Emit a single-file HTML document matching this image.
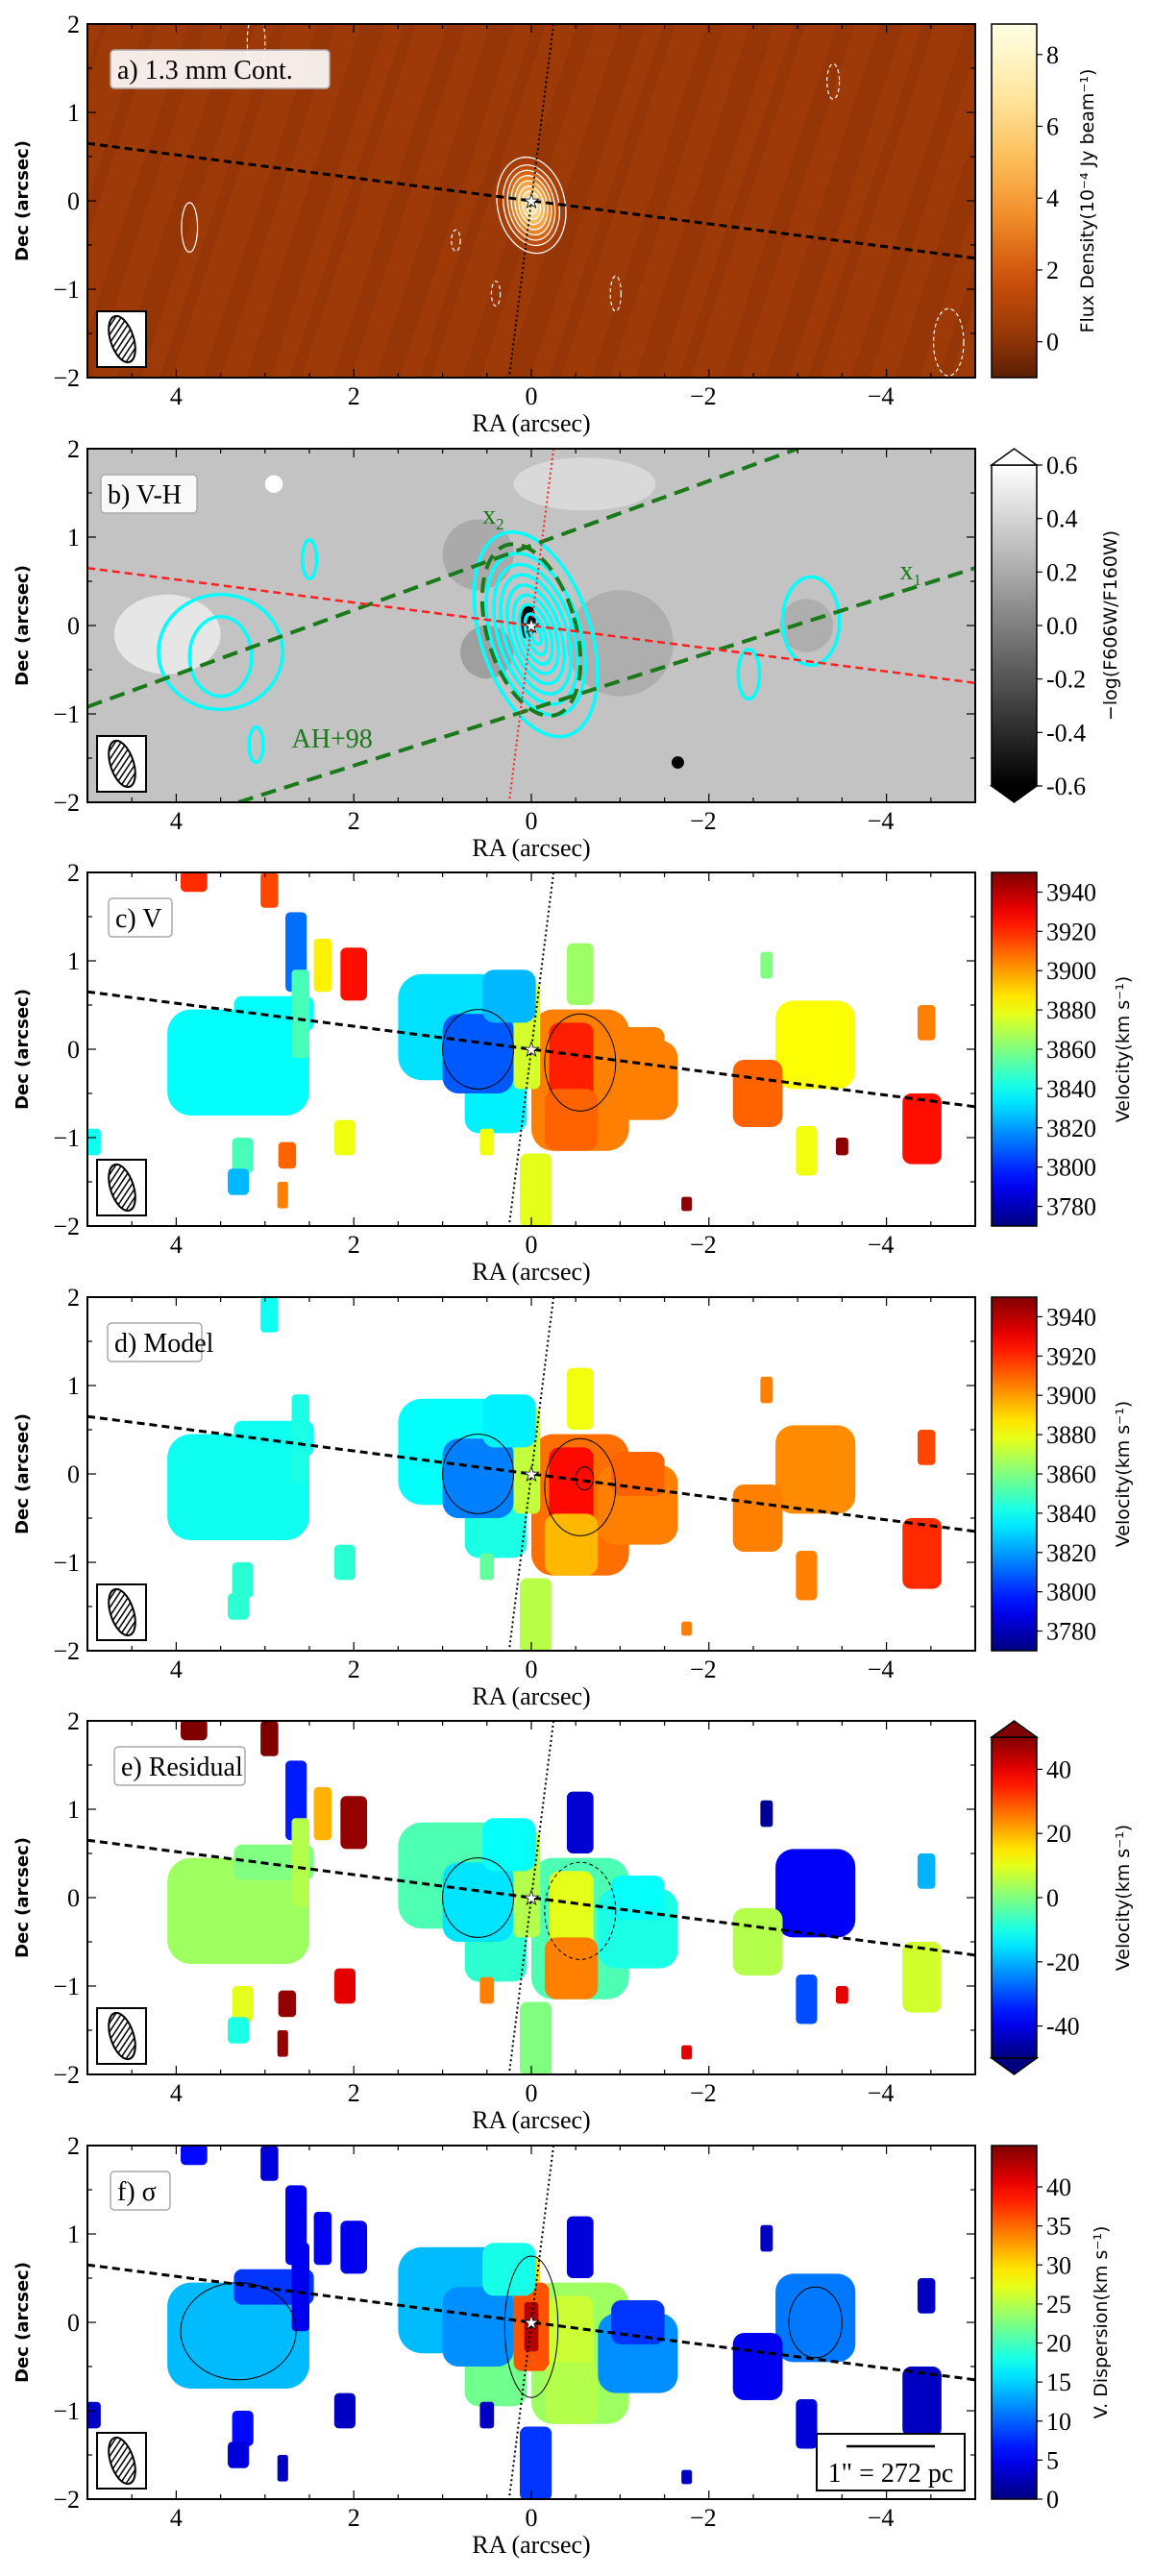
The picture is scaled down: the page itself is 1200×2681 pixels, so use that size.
<!DOCTYPE html>
<html><head><meta charset="utf-8"><style>
html,body{margin:0;padding:0;background:#fff}
svg{display:block}
.tk{font-family:"Liberation Serif",serif;font-size:26px;fill:#000}
.ax{font-family:"Liberation Serif",serif;font-size:26px;fill:#000}
.yl{font-family:"DejaVu Sans",sans-serif;font-weight:bold;font-size:18px;fill:#000}
.cl{font-family:"DejaVu Sans",sans-serif;font-size:19px;fill:#000}
.lb{font-family:"Liberation Serif",serif;font-size:28px;fill:#000}
</style></head><body>
<svg id="fig" width="1200" height="2681" viewBox="0 0 1200 2681" xmlns="http://www.w3.org/2000/svg"></svg>
<script>
// ---------- data ----------
const xTicks=[4,2,0,-2,-4];
const yTicks=[2,1,0,-1,-2];
const panelTops=[25,467,908,1350,1791,2233];
const panelLabels=["a) 1.3 mm Cont.","b) V-H","c) V","d) Model","e) Residual","f) σ"];
const cbarLabels=["Flux Density(10⁻⁴ Jy beam⁻¹)","−log(F606W/F160W)","Velocity(km s⁻¹)","Velocity(km s⁻¹)","Velocity(km s⁻¹)","V. Dispersion(km s⁻¹)"];
const cbarRanges=[[-1,8.85],[-0.6,0.6],[3770,3950],[3770,3950],[-50,50],[0,45.3]];
const cbarTicksA=[0,2,4,6,8];
const cbarTicksB=[-0.6,-0.4,-0.2,0.0,0.2,0.4,0.6];
const cbarTicksV=[3780,3800,3820,3840,3860,3880,3900,3920,3940];
const cbarTicksE=[-40,-20,0,20,40];
const cbarTicksF=[0,5,10,15,20,25,30,35,40];
// region shapes: [ra, dec, half-width, half-height] (arcsec)
const shapes=[
[3.3,-0.15,0.8,0.6],[2.9,0.4,0.45,0.2],[2.65,1.1,0.12,0.45],[2.35,0.95,0.1,0.3],[2.0,0.85,0.15,0.3],
[0.75,0.25,0.75,0.6],[0.4,-0.45,0.35,0.5],[0.6,-0.05,0.4,0.45],[-0.55,-0.35,0.55,0.8],[-1.2,-0.35,0.45,0.45],
[-0.45,-0.2,0.25,0.5],[0.05,0.15,0.15,0.6],[-0.55,0.85,0.15,0.35],[-0.05,-1.6,0.18,0.42],[-3.2,0.05,0.45,0.5],
[-2.55,-0.5,0.28,0.38],[-4.4,-0.9,0.22,0.4],[-2.65,0.95,0.07,0.15],[-3.1,-1.15,0.12,0.28],[-3.5,-1.1,0.07,0.1],
[-1.75,-1.75,0.06,0.08],[3.25,-1.2,0.12,0.2],[3.3,-1.5,0.12,0.15],[2.75,-1.2,0.1,0.15],[2.1,-1.0,0.12,0.2],
[2.8,-1.65,0.06,0.15],[0.5,-1.05,0.08,0.15],[3.8,1.9,0.15,0.12],[2.95,1.8,0.1,0.2],[4.95,-1.05,0.1,0.15],
[-4.45,0.3,0.1,0.2],[0.0,-0.05,0.2,0.5],[0.0,-0.05,0.08,0.28],[0.25,0.6,0.3,0.3],[-0.45,-0.8,0.3,0.35],
[2.6,0.4,0.1,0.5],[-1.2,0.0,0.3,0.25]
];
const valsC=[3838,3838,3812,3885,3925,3832,3835,3808,3905,3905,3922,3875,3865,3878,3882,3910,3925,3860,3880,3948,3948,3850,3825,3910,3880,3905,3880,3920,3915,3840,3905,null,null,3825,3910,3850,3905];
const valsD=[3840,3840,null,null,null,3838,3842,3815,3908,3905,3926,3872,3880,3870,3903,3905,3920,3905,3905,null,3905,3845,3845,null,3845,null,3855,null,3840,null,3915,null,null,3835,3895,3842,3910];
const valsE=[3,0,-35,20,48,-5,-8,-15,-5,-10,10,5,-42,0,-38,5,8,-48,-30,40,40,10,-10,48,40,48,25,50,50,null,-20,null,null,-12,25,5,-12];
const valsF=[14,8,5,5,5,14,22,12,24,12,26,30,4,8,11,5,3,3,4,null,3,6,4,null,3,3,3,6,4,3,3,36,43,18,25,5,8];
// panel a contours (ra-radius, dec-radius)
const contA_rx=[0.38,0.31,0.26,0.22,0.18,0.14,0.1,0.06];
const contA_ry=[0.55,0.46,0.4,0.34,0.28,0.22,0.16,0.1];
// panel b cyan contours
const contB_rx=[0.62,0.5,0.42,0.35,0.28,0.22,0.16,0.1,0.05];
const contB_ry=[1.2,0.95,0.82,0.7,0.58,0.46,0.35,0.24,0.12];
// ---------- helpers ----------
const L=91,R=1015,H=368,CBL=1032,CBR=1079;
const svg=document.getElementById('fig');
const NS="http://www.w3.org/2000/svg";
function mk(tag,attrs,parent){const e=document.createElementNS(NS,tag);for(const k in attrs)e.setAttribute(k,attrs[k]);(parent||svg).appendChild(e);return e;}
function xs(ra){return L+(5-ra)/10*(R-L);}
function ysF(top){return d=>top+(2-d)/4*H;}
function cl(v){return Math.max(0,Math.min(1,v));}
function jet(t){t=cl(t);const r=cl(1.5-Math.abs(4*t-3)),g=cl(1.5-Math.abs(4*t-2)),b=cl(1.5-Math.abs(4*t-1));return `rgb(${Math.round(r*255)},${Math.round(g*255)},${Math.round(b*255)})`;}
const ybStops=[[0,[90,30,5]],[0.12,[150,55,6]],[0.28,[205,80,10]],[0.45,[240,140,40]],[0.62,[253,190,90]],[0.8,[255,230,160]],[1,[255,255,230]]];
function ylor(t){t=cl(t);for(let i=1;i<ybStops.length;i++){if(t<=ybStops[i][0]){const a=ybStops[i-1],b=ybStops[i],f=(t-a[0])/(b[0]-a[0]);const c=a[1].map((v,j)=>Math.round(v+(b[1][j]-v)*f));return `rgb(${c})`;}}return 'rgb(255,255,230)';}
function gray(t){const g=Math.round(cl(t)*255);return `rgb(${g},${g},${g})`;}
const cmaps=[ylor,gray,jet,jet,jet,jet];

panelTops.forEach((top,pi)=>{
  const ys=ysF(top);
  const g=mk('g',{});
  
  
  const cp=mk('clipPath',{id:'clip'+pi},g);mk('rect',{x:L,y:top,width:R-L,height:H},cp);
  const pg=mk('g',{'clip-path':`url(#clip${pi})`},g);
  const [vmin,vmax]=cbarRanges[pi];const cm=cmaps[pi];
  const norm=v=>(v-vmin)/(vmax-vmin);
  if(pi===0){
    const bg=mk('rect',{x:L,y:top,width:R-L,height:H,fill:ylor(norm(0.4))},pg);
    
    for(let k=-8;k<30;k++){mk('rect',{x:L+k*45,y:top-200,width:12+(k%3)*6,height:H+400,fill:'#3a1000',opacity:0.07,transform:`rotate(18 ${L+k*45} ${top+H/2})`},pg);}
    contA_rx.forEach((rx,i)=>{const e=mk('ellipse',{cx:xs(0.0),cy:ys(-0.05),rx:rx*92.4,ry:contA_ry[i]*92,fill:ylor(norm(1+i*1.0)),'fill-opacity':0.55,stroke:'#fff','stroke-width':1.3,transform:`rotate(-12 ${xs(0)} ${ys(-0.05)})`},pg);});
    [[3.85,-0.3,0.09,0.28,0],[0.85,-0.45,0.05,0.12,1],[0.4,-1.05,0.05,0.14,1],[-0.95,-1.05,0.06,0.2,1],[-3.4,1.35,0.07,0.2,1],[-4.7,-1.6,0.17,0.38,1],[3.1,1.8,0.1,0.35,1]].forEach(c=>{
      const e=mk('ellipse',{cx:xs(c[0]),cy:ys(c[1]),rx:c[2]*92.4,ry:c[3]*92,fill:'none',stroke:'#fff','stroke-width':1.2,'stroke-dasharray':c[4]?'4 3':'none'},pg);
      });
  } else if(pi===1){
    const bg=mk('rect',{x:L,y:top,width:R-L,height:H,fill:gray(norm(0.32))},pg);
    
    [[4.1,-0.1,0.6,0.45,0.48],[-1.0,-0.2,0.6,0.6,0.22],[0.6,0.8,0.4,0.4,0.2],[-3.1,0,0.3,0.3,0.22],[0.5,-0.3,0.3,0.3,0.15],[0.05,0.05,0.1,0.2,-0.6],[-1.65,-1.55,0.07,0.07,-0.6],[2.9,1.6,0.1,0.1,0.6],[-0.85,1.5,0.1,0.1,0.6],[-0.6,1.6,0.8,0.3,0.42]].forEach(b=>{
      const e=mk('ellipse',{cx:xs(b[0]),cy:ys(b[1]),rx:b[2]*92.4,ry:b[3]*92,fill:gray(norm(b[4]))},pg);});
    contB_rx.forEach((rx,i)=>{const e=mk('ellipse',{cx:xs(-0.05),cy:ys(-0.1),rx:rx*92.4,ry:contB_ry[i]*92,fill:'none',stroke:'#00ffff','stroke-width':3.5,transform:`rotate(-18 ${xs(-0.05)} ${ys(-0.1)})`},pg);});
    [[3.5,-0.3,0.7,0.65,3.5],[3.5,-0.35,0.35,0.45,3.5],[-3.15,0.05,0.32,0.5,3.5],[-2.45,-0.55,0.12,0.28,3.5],[2.5,0.75,0.08,0.22,3.5],[3.1,-1.35,0.08,0.2,3.5]].forEach(c=>{
      const e=mk('ellipse',{cx:xs(c[0]),cy:ys(c[1]),rx:c[2]*92.4,ry:c[3]*92,fill:'none',stroke:'#00ffff','stroke-width':c[4]},pg);});
    const gl=[[5,-0.92,-3.0,2.0],[3.3,-2.0,-5,0.65]];
    gl.forEach(l=>{const e=mk('line',{x1:xs(l[0]),y1:ys(l[1]),x2:xs(l[2]),y2:ys(l[3]),stroke:'#1a7a1a','stroke-width':4,'stroke-dasharray':'16 9'},pg);});
    const ge=mk('ellipse',{cx:xs(0.0),cy:ys(-0.05),rx:0.5*92.4,ry:1.0*92,fill:'none',stroke:'#1a7a1a','stroke-width':4,'stroke-dasharray':'16 9',transform:`rotate(-16 ${xs(0)} ${ys(-0.05)})`},pg);
    
    [["x",0.55,1.15,"2"],["x",-4.15,0.52,"1"]].forEach(t=>{const e=mk('text',{x:xs(t[1]),y:ys(t[2]),class:'lb'},pg);e.style.fill='#1a7a1a';e.innerHTML=t[0]+`<tspan font-size="17" dy="6">${t[3]}</tspan>`;});
    const ah=mk('text',{x:xs(2.7),y:ys(-1.38),class:'lb'},pg);ah.style.fill='#1a7a1a';ah.textContent='AH+98';
  } else {
    const vals=[null,null,valsC,valsD,valsE,valsF][pi];
    shapes.forEach((s,i)=>{const v=vals[i];if(v===null||v===undefined)return;
      const w=s[2]*92.4,h=s[3]*92;const r=Math.min(w,h)*0.45;
      const e=mk('rect',{x:xs(s[0])-w,y:ys(s[1])-h,width:2*w,height:2*h,rx:r,ry:r,fill:cm(norm(v))},pg);
      });
    const cc=[[0.6,0,0.4,0.45],[-0.55,-0.15,0.4,0.55],[3.3,-0.1,0.65,0.55],[-3.2,0.0,0.3,0.4],[0,-0.05,0.3,0.8],[-0.6,-0.05,0.1,0.13]];
    const use=pi===3?[0,1,5]:pi===5?[2,3,4]:[0,1];
    use.forEach(k=>{const c=cc[k];const e=mk('ellipse',{cx:xs(c[0]),cy:ys(c[1]),rx:c[2]*92.4,ry:c[3]*92,fill:'none',stroke:'#000','stroke-width':1,'stroke-dasharray':pi===4&&k%2?'4 3':'none'},pg);});
  }
  const lc=pi===1?'#ff2020':'#000';
  const maj=mk('line',{x1:xs(5),y1:ys(0.65),x2:xs(-5),y2:ys(-0.65),stroke:lc,'stroke-width':pi===1?2.5:3,'stroke-dasharray':'8 5'},pg);
  
  const mn=mk('line',{x1:xs(-0.25),y1:ys(2),x2:xs(0.25),y2:ys(-2),stroke:lc,'stroke-width':2,'stroke-dasharray':'2 3'},pg);
  
  const st=mk('text',{x:xs(0),y:ys(0)+7,'text-anchor':'middle','font-size':20,fill:'#fff',stroke:'#000','stroke-width':0.8,'font-family':'DejaVu Sans'},pg);st.textContent='★';
  
  const fr=mk('rect',{x:L,y:top,width:R-L,height:H,fill:'none',stroke:'#000','stroke-width':2},g);
  for(let ra=5;ra>=-5;ra-=0.5){const x=xs(ra),isM=Math.abs(ra%2)<1e-6;const l=isM?9:5;
    mk('line',{x1:x,y1:top+H,x2:x,y2:top+H-l,stroke:'#000','stroke-width':1.2},g);mk('line',{x1:x,y1:top,x2:x,y2:top+l,stroke:'#000','stroke-width':1.2},g);}
  for(let d=2;d>=-2;d-=0.5){const y=ys(d),isM=Math.abs(d%1)<1e-6;const l=isM?9:5;
    mk('line',{x1:L,y1:y,x2:L+l,y2:y,stroke:'#000','stroke-width':1.2},g);mk('line',{x1:R,y1:y,x2:R-l,y2:y,stroke:'#000','stroke-width':1.2},g);}
  xTicks.forEach(t=>{const e=mk('text',{x:xs(t)+(t<0?-6:0),y:top+H+28,'text-anchor':'middle',class:'tk'},g);e.textContent=t<0?'−'+(-t):t;});
  yTicks.forEach(t=>{const e=mk('text',{x:83,y:ys(t)+9,'text-anchor':'end',class:'tk'},g);e.textContent=t<0?'−'+(-t):t;});
  const xl=mk('text',{x:553,y:top+H+56,'text-anchor':'middle',class:'ax'},g);xl.textContent='RA (arcsec)';
  const yl=mk('text',{x:0,y:0,'text-anchor':'middle',class:'yl',transform:`translate(29 ${top+H/2}) rotate(-90)`},g);yl.textContent='Dec (arcsec)';
  const lw=[228,100,66,98,136,62][pi];
  const lbx=mk('rect',{x:[115,105,113,112,119,115][pi],y:top+27,width:lw,height:40,rx:4,fill:'#fff','fill-opacity':0.9,stroke:'#aaa','stroke-width':1.5},g);
  const lt=mk('text',{x:[122,112,120,119,126,122][pi],y:top+57,class:'lb'},g);lt.textContent=panelLabels[pi];
  const bb=mk('rect',{x:101,y:top+H-69,width:51,height:58,fill:'#fff',stroke:'#000','stroke-width':2},g);
  const bcx=127,bcy=top+H-40;
  const bcp=mk('clipPath',{id:'bclip'+pi},g);mk('ellipse',{cx:bcx,cy:bcy,rx:12,ry:25,transform:`rotate(-18 ${bcx} ${bcy})`},bcp);
  const hg=mk('g',{'clip-path':`url(#bclip${pi})`},g);
  for(let k=-40;k<40;k+=6)mk('line',{x1:bcx+k-20,y1:bcy+30,x2:bcx+k+20,y2:bcy-30,stroke:'#000','stroke-width':1.5},hg);
  const be=mk('ellipse',{cx:bcx,cy:bcy,rx:12,ry:25,fill:'none',stroke:'#000','stroke-width':2,transform:`rotate(-18 ${bcx} ${bcy})`},g);
  const tri=(pi===1||pi===4);
  const cbTop=tri?top+17:top, cbBot=tri?top+H-17:top+H;
  const gid='grad'+pi;const lg=mk('linearGradient',{id:gid,x1:0,y1:1,x2:0,y2:0},g);
  for(let k=0;k<=20;k++)mk('stop',{offset:k/20,'stop-color':cm(k/20)},lg);
  const cb=mk('rect',{x:CBL,y:cbTop,width:CBR-CBL,height:cbBot-cbTop,fill:`url(#${gid})`,stroke:'#000','stroke-width':1.5},g);
  
  if(tri){const t1=mk('polygon',{points:`${CBL},${cbTop} ${CBR},${cbTop} ${(CBL+CBR)/2},${top}`,fill:cm(1),stroke:'#000','stroke-width':1.5},g);
    const t2=mk('polygon',{points:`${CBL},${cbBot} ${CBR},${cbBot} ${(CBL+CBR)/2},${top+H}`,fill:cm(0),stroke:'#000','stroke-width':1.5},g);}
  const cticks=[cbarTicksA,cbarTicksB,cbarTicksV,cbarTicksV,cbarTicksE,cbarTicksF][pi];
  const cy=v=>cbBot-(v-vmin)/(vmax-vmin)*(cbBot-cbTop);
  cticks.forEach(v=>{const y=cy(v);mk('line',{x1:CBR,y1:y,x2:CBR+6,y2:y,stroke:'#000','stroke-width':1.2},g);
    const e=mk('text',{x:CBR+10,y:y+9,class:'tk'},g);e.textContent=pi===1?(v<0?'-':'')+Math.abs(v).toFixed(1):(v<0?'-'+(-v):v);});
  const cx=[1138,1162,1175,1175,1175,1152][pi];
  const ct=mk('text',{x:0,y:0,'text-anchor':'middle',class:'cl',transform:`translate(${cx} ${top+H/2}) rotate(-90)`},g);ct.textContent=cbarLabels[pi];
  if(pi===5){const sb=mk('rect',{x:850,y:top+300,width:154,height:59,fill:'#fff',stroke:'#000','stroke-width':2},g);
    const sl=mk('line',{x1:881,y1:top+313,x2:973,y2:top+313,stroke:'#000','stroke-width':2.5},g);
    const stx=mk('text',{x:927,y:top+350,'text-anchor':'middle',class:'lb'},g);stx.textContent='1" = 272 pc';}
});
</script>
</body></html>
